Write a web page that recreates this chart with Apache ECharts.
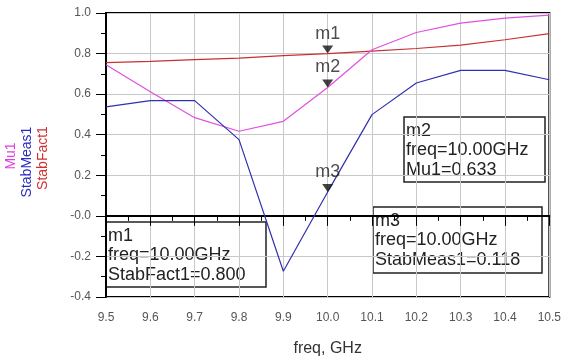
<!DOCTYPE html>
<html>
<head>
<meta charset="utf-8">
<script src="https://cdn.jsdelivr.net/npm/echarts@6/dist/echarts.min.js"></script>
<style>
  html, body { margin: 0; padding: 0; background: #fff; }
  #chart { width: 564px; height: 363px; }
</style>
</head>
<body>
<div id="chart"></div>
<script>
// frequency points, GHz
var freq = [9.5, 9.6, 9.7, 9.8, 9.9, 10.0, 10.1, 10.2, 10.3, 10.4, 10.5];

var mu1 = [0.745, 0.612, 0.484, 0.417, 0.466, 0.633, 0.819, 0.904, 0.950, 0.975, 0.990];
var stabMeas1 = [0.537, 0.568, 0.568, 0.376, -0.273, 0.118, 0.499, 0.655, 0.717, 0.717, 0.671];
var stabFact1 = [0.755, 0.762, 0.770, 0.778, 0.790, 0.800, 0.812, 0.825, 0.842, 0.868, 0.898];

// markers: name, freq, value
var markers = [
  ['m1', 10.0, 0.800],
  ['m2', 10.0, 0.633],
  ['m3', 10.0, 0.118]
];

var m1Lines = ['m1', 'freq=10.00GHz', 'StabFact1=0.800'];
var m2Lines = ['m2', 'freq=10.00GHz', 'Mu1=0.633'];
var m3Lines = ['m3', 'freq=10.00GHz', 'StabMeas1=0.118'];

var xTickLabels = ['9.5', '9.6', '9.7', '9.8', '9.9', '10.0', '10.1', '10.2', '10.3', '10.4', '10.5'];
var yTickLabels = ['-0.4', '-0.2', '-0.0', '0.2', '0.4', '0.6', '0.8', '1.0'];

var yTitles = ['Mu1', 'StabMeas1', 'StabFact1'];
var yTitleColors = ['#e040e0', '#2c2cc0', '#d03030'];

var font = '"Liberation Sans", Arial, sans-serif';

var chart = echarts.init(document.getElementById('chart'));

function pairs(ys) {
  return freq.map(function (f, i) { return [f, ys[i]]; });
}

function box(x, y, w, h, lines) {
  return {
    type: 'group',
    x: x,
    y: y,
    children: [
      {
        type: 'rect',
        shape: { x: 0, y: 0, width: w, height: h },
        style: { fill: 'none', stroke: '#222', lineWidth: 1.5 }
      },
      {
        type: 'text',
        x: 2,
        y: 4,
        style: {
          text: lines.join('\n'),
          font: '18px ' + font,
          lineHeight: 19.5,
          fill: '#222'
        }
      }
    ]
  };
}

// rotated axis titles, one column per series (reads bottom to top)
var titleShift = [4, -2, 2];
var yTitleGroup = {
  type: 'group',
  x: 11,
  y: 160,
  rotation: Math.PI / 2,
  children: yTitles.map(function (t, i) {
    return {
      type: 'text',
      x: titleShift[i],
      y: i * 16,
      style: {
        text: t, font: '14px ' + font, fill: yTitleColors[i],
        align: 'center', verticalAlign: 'middle'
      }
    };
  })
};

var option = {
  animation: false,
  grid: {
    left: 106, right: 11, top: 13, bottom: 66,
    show: true, borderColor: '#000', borderWidth: 2
  },
  xAxis: {
    type: 'value',
    min: 9.5, max: 10.5, interval: 0.1,
    name: 'freq, GHz',
    nameLocation: 'middle',
    nameGap: 44,
    nameTextStyle: { fontFamily: font, fontSize: 16, color: '#333' },
    axisLine: { lineStyle: { color: '#000', width: 2 } },
    axisTick: { length: 10, lineStyle: { color: '#000' } },
    minorTick: { show: true, splitNumber: 2, length: 5, lineStyle: { color: '#000' } },
    splitLine: { show: true, lineStyle: { color: '#c8c8c8', width: 1 } },
    axisLabel: {
      margin: 15, fontFamily: font, fontSize: 12, color: '#555',
      formatter: function (v) {
        var i = Math.round((v - 9.5) * 10);
        return xTickLabels[i] || '';
      }
    }
  },
  yAxis: {
    type: 'value',
    min: -0.4, max: 1.0, interval: 0.2,
    axisLine: { show: true, lineStyle: { color: '#000', width: 2 } },
    axisTick: { show: true, length: 10, lineStyle: { color: '#000' } },
    minorTick: { show: true, splitNumber: 2, length: 5, lineStyle: { color: '#000' } },
    splitLine: { show: true, lineStyle: { color: '#c8c8c8', width: 1 } },
    axisLabel: {
      margin: 15, fontFamily: font, fontSize: 12, color: '#555',
      formatter: function (v) {
        var i = Math.round((v + 0.4) * 5);
        return yTickLabels[i] || '';
      }
    }
  },
  graphic: [
    yTitleGroup,
    box(106, 222, 160, 65, m1Lines),
    box(404, 117, 141, 65, m2Lines),
    box(373, 207, 169, 66, m3Lines)
  ],
  series: [
    {
      name: 'StabFact1', type: 'line', data: pairs(stabFact1),
      showSymbol: false, lineStyle: { color: '#c83030', width: 1.2 }, z: 3
    },
    {
      name: 'Mu1', type: 'line', data: pairs(mu1),
      showSymbol: false, lineStyle: { color: '#e050e0', width: 1.2 }, z: 3
    },
    {
      name: 'StabMeas1', type: 'line', data: pairs(stabMeas1),
      showSymbol: false, lineStyle: { color: '#3030b0', width: 1.2 }, z: 3
    },
    {
      type: 'scatter',
      data: markers.map(function (m) { return { name: m[0], value: [m[1], m[2]] }; }),
      symbol: 'triangle',
      symbolRotate: 180,
      symbolSize: [11, 8],
      symbolOffset: [0, '-50%'],
      itemStyle: { color: '#111' },
      label: {
        show: true, position: 'top', distance: 3,
        formatter: '{b}', fontFamily: font, fontSize: 18, color: '#222'
      },
      silent: true,
      z: 5
    }
  ]
};

chart.setOption(option);
</script>
</body>
</html>
